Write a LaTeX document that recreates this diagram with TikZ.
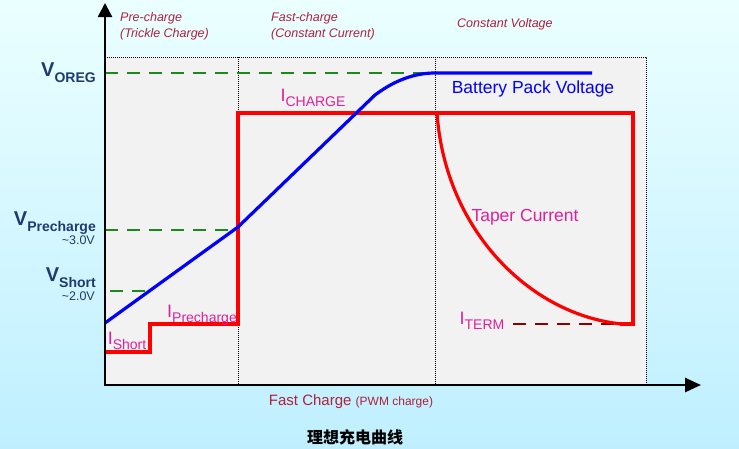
\documentclass[tikz,border=0pt]{standalone}
\usepackage{fontspec}
\setmainfont{Liberation Sans}
\newfontfamily\cjk{Noto Sans CJK SC}
\usetikzlibrary{arrows.meta}
\definecolor{navy}{HTML}{1F3A6E}
\definecolor{lbl}{HTML}{B0203A}
\definecolor{mag}{HTML}{E0209A}
\definecolor{grn}{HTML}{1A8A1A}
\newcommand\myvsub[1]{\raisebox{-0.3em}{\bfseries\fontsize{14}{14}\selectfont #1}}
\newcommand\myisub[1]{\raisebox{-0.3em}{\fontsize{14}{14}\selectfont #1}}
\begin{document}
\begin{tikzpicture}[x=1pt,y=-1pt,
  vl/.style={font=\bfseries\fontsize{20}{20}\selectfont,text=navy,anchor=east,inner sep=0},
  vs/.style={font=\fontsize{12.5}{12.5}\selectfont,text=navy,anchor=east,inner sep=0},
  ph/.style={font=\itshape\fontsize{12.5}{16}\selectfont,text=lbl,anchor=north west,align=left,inner sep=0},
  il/.style={font=\fontsize{18}{18}\selectfont,text=mag,inner sep=0},
  gd/.style={grn,line width=2.6pt,dash pattern=on 13pt off 9pt},
  dv/.style={black,densely dotted,line width=1pt},
  rd/.style={red,line width=3.2pt,line join=miter},
  bl/.style={blue,line width=3.2pt}]
\shade[top color=cyan!8,bottom color=blue!25!cyan!25] (0,0) rectangle (739,448);
\useasboundingbox (0,0) rectangle (739,448);
\fill[gray!10] (105,57) rectangle (646,385);
\draw[dv] (105,57) -- (646,57) -- (646,385);
\draw[dv] (238,57) -- (238,385);
\draw[dv] (435,57) -- (435,385);
\draw[gd] (105,73) -- (435,73);
\draw[gd] (105,230) -- (238,230);
\draw[gd] (110,291) -- (150,291);
\draw[red!55!black,line width=2.6pt,dash pattern=on 13pt off 9pt] (513,324) -- (622,324);
\draw[rd] (105,352) -- (150,352) -- (150,324) -- (238,324) -- (238,113) -- (633,113) -- (633,324) -- (620,324);
\draw[rd] (437,113) .. controls (445,230) and (530,315) .. (622,324);
\draw[bl] (105,323) -- (238,227) -- (375,95) .. controls (395,80) and (415,73) .. (435,73) -- (592,73);
\draw[line width=2.6pt,-{Triangle[length=14pt,width=14pt]}] (105,386) -- (105,3);
\draw[line width=2.6pt,-{Triangle[length=16pt,width=14pt]}] (104,385) -- (701,385);
\node[vl] (voreg) at (96,73) {V\myvsub{OREG}};
\node[vl] (vpre) at (96,223) {V\myvsub{Precharge}};
\node[vs] (v3) at (95,240) {\textasciitilde3.0V};
\node[vl] (vsh) at (96,278) {V\myvsub{Short}};
\node[vs] (v2) at (95,296) {\textasciitilde2.0V};
\node[ph] (p1) at (120,12) {Pre-charge\\(Trickle Charge)};
\node[ph] (p2) at (271,12) {Fast-charge\\(Constant Current)};
\node[ph] (p3) at (457,18) {Constant Voltage};
\node[il] (ich) at (313,98) {I\myisub{CHARGE}};
\node[il] (ish) at (127,341) {I\myisub{Short}};
\node[il] (ipr) at (202,315) {I\myisub{Precharge}};
\node[il] (iterm) at (482,321) {I\myisub{TERM}};
\node[font=\fontsize{17.5}{17.5}\selectfont,text=blue,inner sep=0] (bpv) at (533,89) {Battery Pack Voltage};
\node[font=\fontsize{17.5}{17.5}\selectfont,text=mag,inner sep=0] (tc) at (525,217) {Taper Current};
\node[font=\fontsize{15}{15}\selectfont,text=lbl,inner sep=0] (fc) at (351,402) {Fast Charge {\fontsize{12}{12}\selectfont (PWM charge)}};
\node[font=\cjk\bfseries\fontsize{16}{16}\selectfont,inner sep=0] (ttl) at (355,437) {理想充电曲线};
\end{tikzpicture}
\end{document}
